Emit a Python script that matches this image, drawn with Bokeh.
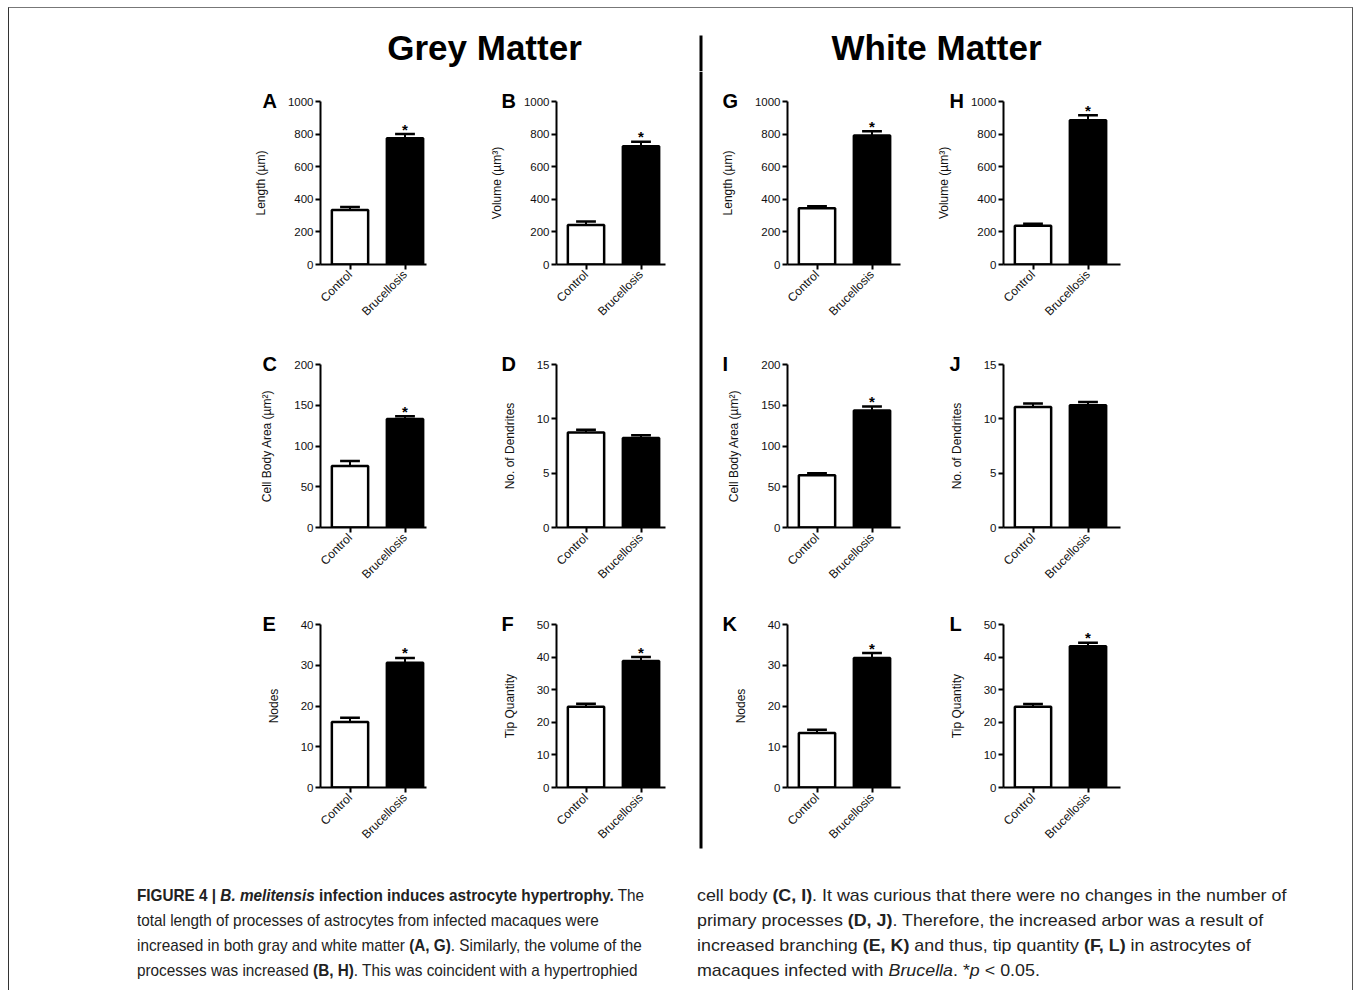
import math
from bokeh.plotting import figure
from bokeh.models import (Range1d, FixedTicker, SingleIntervalTicker, ColumnDataSource,
                          Div, Spacer)
from bokeh.layouts import column, row
from bokeh.embed import file_html
from bokeh.resources import INLINE
from bokeh.core.properties import value

# ---------------- data ----------------
categories = ["Control", "Brucellosis"]
section_titles = ["Grey Matter", "White Matter"]
panel_letters = ["A", "B", "C", "D", "E", "F", "G", "H", "I", "J", "K", "L"]
y_labels = ["Length (µm)", "Volume (µm³)", "Cell Body Area (µm²)",
            "No. of Dendrites", "Nodes", "Tip Quantity"] * 2
y_max = [1000, 1000, 200, 15, 40, 50] * 2
y_step = [200, 200, 50, 5, 10, 10] * 2
control_mean = [335, 242, 75.5, 8.75, 16.1, 24.8, 345, 238, 64.0, 11.1, 13.4, 24.8]
control_err = [18, 22, 6.0, 0.25, 1.0, 0.9, 12, 12, 2.5, 0.30, 0.8, 0.8]
bruc_mean = [775, 725, 133, 8.23, 30.6, 38.8, 792, 885, 143.6, 11.25, 31.8, 43.3]
bruc_err = [25, 28, 3.5, 0.25, 1.2, 1.2, 25, 30, 5.0, 0.30, 1.2, 1.1]
significant = [True, True, True, False, True, True, True, True, True, False, True, True]

caption_left = (
    "<b>FIGURE 4 | <i>B. melitensis</i> infection induces astrocyte hypertrophy.</b> The<br>"
    "total length of processes of astrocytes from infected macaques were<br>"
    "increased in both gray and white matter <b>(A, G)</b>. Similarly, the volume of the<br>"
    "processes was increased <b>(B, H)</b>. This was coincident with a hypertrophied"
)
caption_right = (
    "cell body <b>(C, I)</b>. It was curious that there were no changes in the number of<br>"
    "primary processes <b>(D, J)</b>. Therefore, the increased arbor was a result of<br>"
    "increased branching <b>(E, K)</b> and thus, tip quantity <b>(F, L)</b> in astrocytes of<br>"
    "macaques infected with <i>Brucella</i>. *<i>p</i> &lt; 0.05."
)

# ---------------- layout geometry ----------------
COL_FIG_W = [429, 260, 216, 433]
COL_BORDER_L = [311, 118, 84, 84]
COL_FRAME_W = [106, 109, 113, 117]
COL_LETTER_OFF = [-58, -55, -65, -54]
ROW_FIG_H = [263, 260, 263]
FRAME_H = 163
BORDER_T = 30
PX_PER_UNIT = 55.0
X_START = -29.5 / PX_PER_UNIT
FONT = "Liberation Sans"


def make_panel(i, col, rw):
    fig_w = COL_FIG_W[col]
    fig_h = ROW_FIG_H[rw]
    fw = COL_FRAME_W[col]
    mbl = COL_BORDER_L[col]
    p = figure(width=fig_w, height=fig_h,
               x_range=Range1d(X_START, X_START + fw / PX_PER_UNIT),
               y_range=Range1d(0, y_max[i]),
               min_border_left=mbl, min_border_right=fig_w - mbl - fw,
               min_border_top=BORDER_T, min_border_bottom=fig_h - BORDER_T - FRAME_H,
               output_backend="svg", toolbar_location=None,
               outline_line_color=None, background_fill_color="white",
               border_fill_color="white")
    p.grid.visible = False
    xs = list(range(len(categories)))
    means = [control_mean[i], bruc_mean[i]]
    errs = [control_err[i], bruc_err[i]]
    src = ColumnDataSource(dict(
        x=xs, top=means,
        hi=[m + e for m, e in zip(means, errs)],
        cl=[x - 0.18 for x in xs], cr=[x + 0.18 for x in xs],
        fill=["white", "black"]))
    p.segment(x0="x", y0="top", x1="x", y1="hi", source=src,
              line_width=2, line_color="black")
    p.segment(x0="cl", y0="hi", x1="cr", y1="hi", source=src,
              line_width=2.5, line_color="black")
    p.vbar(x="x", top="top", width=0.66, source=src, fill_color="fill",
           line_color="black", line_width=2.5)
    if significant[i]:
        p.text(x=[xs[1]], y=[bruc_mean[i] + bruc_err[i]], text=["*"],
               text_font=value(FONT), text_font_size="15px", text_font_style="bold",
               text_align="center", text_baseline="middle", y_offset=-5,
               text_color="black")

    p.xaxis.ticker = FixedTicker(ticks=xs)
    p.xaxis.major_label_overrides = {x: c for x, c in zip(xs, categories)}
    p.xaxis.major_label_orientation = math.pi / 4
    p.xaxis.major_label_standoff = 3
    p.yaxis.ticker = SingleIntervalTicker(interval=y_step[i], num_minor_ticks=0)
    p.yaxis.axis_label = y_labels[i]
    p.yaxis.major_label_standoff = 2
    p.yaxis.axis_label_standoff = 17
    for ax in p.axis:
        ax.axis_line_width = 2
        ax.axis_line_color = "black"
        ax.major_tick_line_width = 2
        ax.major_tick_line_color = "black"
        ax.major_tick_in = 0
        ax.major_tick_out = 5
        ax.minor_tick_line_color = None
        ax.major_label_text_font = FONT
        ax.major_label_text_font_size = "11.5px"
        ax.major_label_text_color = "#111"
        ax.axis_label_text_font = FONT
        ax.axis_label_text_font_size = "12px"
        ax.axis_label_text_font_style = "normal"
        ax.axis_label_text_color = "#111"
    p.xaxis.major_label_text_font_size = "12px"

    # panel letter as the figure title, pulled to the left of the y axis
    p.title.text = panel_letters[i]
    p.title.align = "left"
    p.title.offset = COL_LETTER_OFF[col]
    p.title.standoff = -20
    p.title.text_font = FONT
    p.title.text_font_size = "20px"
    p.title.text_font_style = "bold"
    p.title.text_color = "black"
    return p


# panels arranged into 4 columns x 3 rows
cols = [[None] * 3 for _ in range(4)]
for i in range(12):
    half, j = divmod(i, 6)
    rw, c = divmod(j, 2)
    col = half * 2 + c
    cols[col][rw] = make_panel(i, col, rw)

# title strip (page coordinates)
tf = figure(width=1343, height=63, x_range=Range1d(9, 1352), y_range=Range1d(71, 8),
            output_backend="svg", toolbar_location=None, x_axis_type=None,
            y_axis_type=None, min_border=0, outline_line_color=None)
tf.text(x=[484, 936], y=[47, 47], text=section_titles, text_font=value(FONT),
        text_font_size="35px", text_font_style="bold", text_align="center",
        text_baseline="middle", text_color="black")
tf.segment(x0=[700.5], y0=[35], x1=[700.5], y1=[71], line_width=3, line_color="black")

# divider between grey and white matter
dv = figure(width=5, height=786, x_range=Range1d(698, 703), y_range=Range1d(857, 71),
            output_backend="svg", toolbar_location=None, x_axis_type=None,
            y_axis_type=None, min_border=0, outline_line_color=None)
dv.segment(x0=[700.5], y0=[71], x1=[700.5], y1=[848], line_width=3, line_color="black")

grid_row = row(column(*cols[0]), column(*cols[1]), dv, column(*cols[2]), column(*cols[3]))

base_style = ("font-family:'Liberation Sans',Arial,sans-serif;font-size:17px;"
              "line-height:25px;color:#222;white-space:nowrap;margin-top:26px;"
              "transform-origin:0 0;overflow:visible;")
cap_l = Div(text=f"<div style=\"{base_style}width:520px;transform:scaleX(0.9);\">{caption_left}</div>",
            width=560, height=133, margin=0)
cap_r = Div(text=f"<div style=\"{base_style}width:600px;transform:scaleX(1.05);\">{caption_right}</div>",
            width=655, height=133, margin=0)
cap_row = row(Spacer(width=128, height=133, margin=0), cap_l, cap_r)

root = column(tf, grid_row, cap_row,
              styles={"border-top": "1px solid #777", "border-left": "1px solid #333",
                      "border-right": "1px solid #555", "margin-left": "8px",
                      "margin-top": "7px"})

open("out.html", "w").write(file_html(root, INLINE))
